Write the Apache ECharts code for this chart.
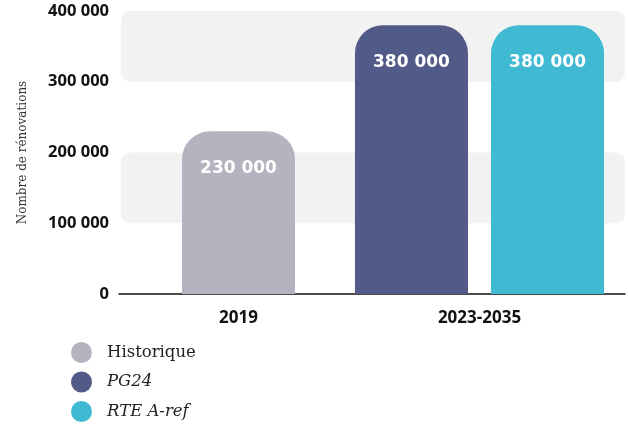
<!DOCTYPE html>
<html>
<head>
<meta charset="utf-8">
<script src="https://cdn.jsdelivr.net/npm/echarts@6/dist/echarts.min.js"></script>
<style>
  html, body { margin: 0; padding: 0; background: #fff; }
  #char { width: 628px; height: 427px; }
</style>
</head>
<body>
<div id="char"></div>
<script>
const categories = ['2019', '2023-2035']
const histValues = [230000, '-']
const pg24Values = ['-', 380000]
const rteValues = ['-', 380000]
const yTicks = { min: 0, max: 400000, interval: 100000 }
// bandes grises de fond (bas, haut)
const bands = [[100000, 200000], [300000, 400000]]

const fmt = (v) => String(v).replace(/\B(?=(\d{3})+(?!\d))/g, ' ')

let myChart = echarts.init(document.getElementById('char'))

const barLabel = {
  show: true,
  position: 'insideTop',
  distance: 29,
  color: '#fff',
  fontFamily: 'DejaVu Sans',
  fontWeight: 'bold',
  fontSize: 17,
  formatter: (p) => fmt(p.value)
}

let option = {
  animation: false,
  grid: [
    { left: 118, width: 482, top: 11, bottom: 133 },
    { left: 119, right: 3, top: 11, bottom: 133 }
  ],
  legend: {
    orient: 'vertical',
    left: 71,
    top: 342,
    padding: 0,
    itemWidth: 21,
    itemHeight: 21,
    itemGap: 8.5,
    icon: 'circle',
    textStyle: {
      fontFamily: 'DejaVu Serif',
      fontSize: 16.5,
      color: '#222',
      padding: [0, 0, 0, 10]
    },
    data: [
      { name: 'Historique' },
      { name: 'PG24', textStyle: { fontStyle: 'italic' } },
      { name: 'RTE A-ref', textStyle: { fontStyle: 'italic' } }
    ]
  },
  xAxis: [
    {
      gridIndex: 0,
      type: 'category',
      data: categories,
      axisLine: { show: false },
      axisTick: { show: false },
      axisLabel: {
        color: '#111',
        fontFamily: 'Open Sans',
        fontWeight: 'bold',
        fontSize: 17,
        margin: 16
      }
    },
    { gridIndex: 0, type: 'category', data: categories, show: false },
    {
      gridIndex: 1,
      type: 'value',
      min: 0,
      max: 1,
      axisLine: { show: true, lineStyle: { color: '#111', width: 1.5 } },
      axisTick: { show: false },
      axisLabel: { show: false },
      splitLine: { show: false }
    }
  ],
  yAxis: [
    {
      gridIndex: 0,
      type: 'value',
      min: yTicks.min,
      max: yTicks.max,
      interval: yTicks.interval,
      name: 'Nombre de rénovations',
      nameLocation: 'middle',
      nameGap: 89,
      nameTextStyle: { fontFamily: 'DejaVu Serif', fontSize: 12, color: '#333' },
      axisLine: { show: false },
      axisTick: { show: false },
      splitLine: { show: false },
      axisLabel: {
        margin: 9,
        color: '#111',
        fontFamily: 'Open Sans',
        fontWeight: 'bold',
        fontSize: 16.5,
        formatter: fmt
      }
    },
    { gridIndex: 1, type: 'value', min: yTicks.min, max: yTicks.max, show: false }
  ],
  series: [
    {
      name: 'Historique',
      type: 'bar',
      xAxisIndex: 0,
      yAxisIndex: 0,
      z: 3,
      clip: false,
      barWidth: 113,
      data: histValues,
      itemStyle: { color: '#b5b3c0', borderRadius: [28, 28, 0, 0] },
      label: barLabel
    },
    {
      name: 'PG24',
      type: 'bar',
      xAxisIndex: 1,
      yAxisIndex: 0,
      z: 3,
      clip: false,
      barWidth: 113,
      barGap: '20.4%',
      data: pg24Values,
      itemStyle: { color: '#525a87', borderRadius: [28, 28, 0, 0] },
      label: barLabel
    },
    {
      name: 'RTE A-ref',
      type: 'bar',
      xAxisIndex: 1,
      yAxisIndex: 0,
      z: 3,
      clip: false,
      barWidth: 113,
      data: rteValues,
      itemStyle: { color: '#40b9d3', borderRadius: [28, 28, 0, 0] },
      label: barLabel
    },
    {
      type: 'custom',
      xAxisIndex: 2,
      yAxisIndex: 1,
      z: 0,
      silent: true,
      data: bands,
      renderItem: (params, api) => {
        let p0 = api.coord([0, api.value(1)])
        let p1 = api.coord([1, api.value(0)])
        return {
          type: 'rect',
          shape: { x: p0[0] + 2, y: p0[1], width: p1[0] - p0[0] - 2, height: p1[1] - p0[1], r: 9 },
          style: { fill: '#f2f2f2' }
        }
      }
    }
  ]
}

myChart.setOption(option)
</script>
</body>
</html>
